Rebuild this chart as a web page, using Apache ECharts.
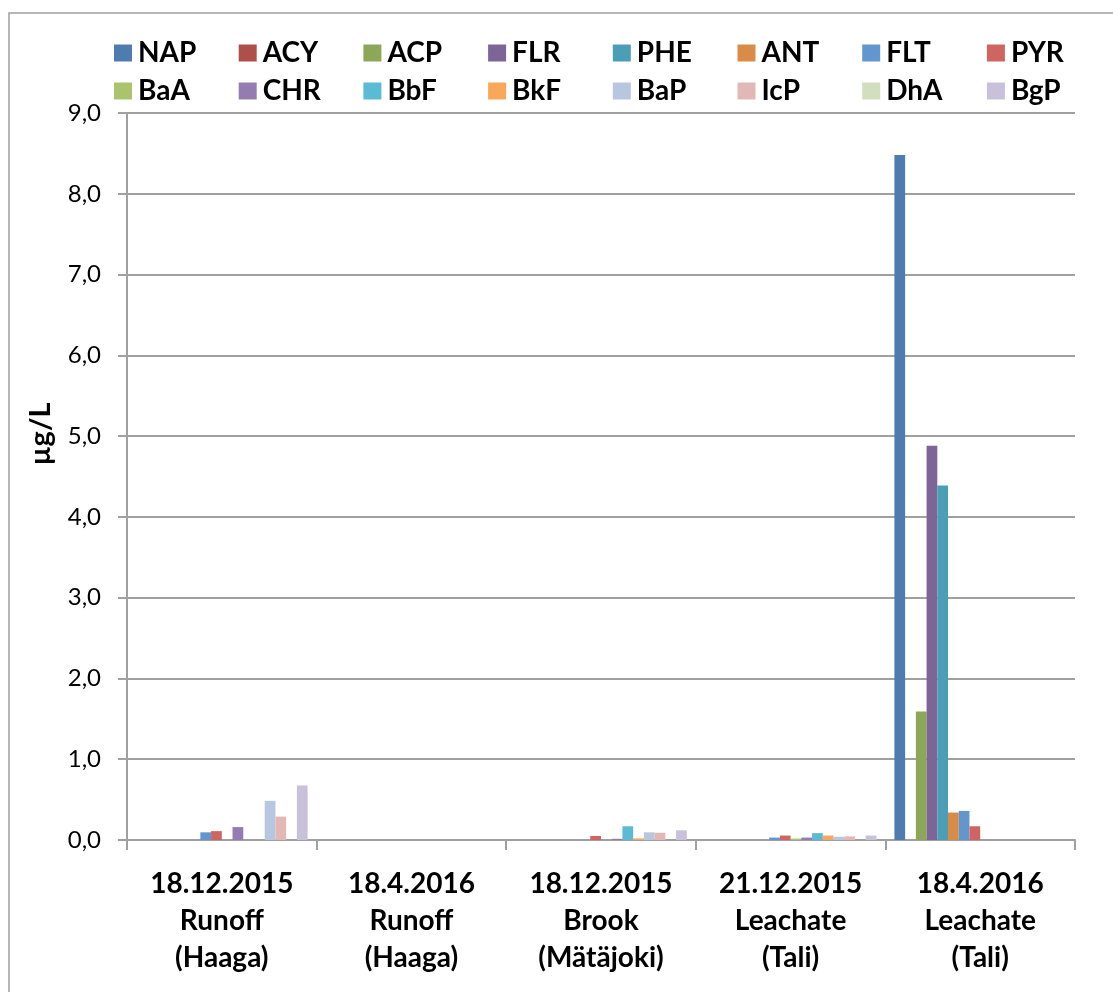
<!DOCTYPE html>
<html>
<head>
<meta charset="utf-8">
<script src="https://cdn.jsdelivr.net/npm/echarts@6/dist/echarts.min.js"></script>
<style>
html,body{margin:0;padding:0;background:#fff;}
#chart{width:1113px;height:992px;}
</style>
</head>
<body>
<div id="chart"></div>
<script>
const categories = ['18.12.2015\nRunoff\n(Haaga)', '18.4.2016\nRunoff\n(Haaga)', '18.12.2015\nBrook\n(Mätäjoki)', '21.12.2015\nLeachate\n(Tali)', '18.4.2016\nLeachate\n(Tali)'];
const seriesNames = ['NAP','ACY','ACP','FLR','PHE','ANT','FLT','PYR','BaA','CHR','BbF','BkF','BaP','IcP','DhA','BgP'];
const NAP = [0, 0, 0, 0, 8.48];
const ACY = [0, 0, 0, 0, 0];
const ACP = [0, 0, 0, 0, 1.59];
const FLR = [0, 0, 0, 0, 4.88];
const PHE = [0, 0, 0, 0, 4.39];
const ANT = [0, 0, 0, 0, 0.34];
const FLT = [0.095, 0, 0, 0.03, 0.36];
const PYR = [0.11, 0, 0.05, 0.055, 0.17];
const BaA = [0, 0, 0, 0.017, 0];
const CHR = [0.16, 0, 0.015, 0.03, 0];
const BbF = [0, 0, 0.17, 0.085, 0];
const BkF = [0, 0, 0.02, 0.055, 0];
const BaP = [0.485, 0, 0.095, 0.04, 0];
const IcP = [0.29, 0, 0.09, 0.045, 0];
const DhA = [0, 0, 0, 0, 0];
const BgP = [0.675, 0, 0.12, 0.055, 0];
const yTicks = [0,1,2,3,4,5,6,7,8,9];

const seriesData = [NAP, ACY, ACP, FLR, PHE, ANT, FLT, PYR, BaA, CHR, BbF, BkF, BaP, IcP, DhA, BgP];
const colors = ['#4F7CAF','#AE4F4A','#8DA758','#7D6597','#4A9FB6','#D98C47','#6196CF','#CE6561','#A9C46C','#947CB2','#5BBAD4','#F9A75B','#B8C6E0','#E2B8B7','#D1DFBD','#C9C0D9'];

const FONT = 'Lato';
const chart = echarts.init(document.getElementById('chart'), null, {renderer: 'canvas'});

function legendRow(names, top) {
  return {
    data: names,
    left: 109,
    top: top,
    width: 1000,
    orient: 'horizontal',
    itemWidth: 18,
    itemHeight: 17,
    itemGap: 21.7,
    icon: 'rect',
    selectedMode: false,
    textStyle: {fontFamily: FONT, fontWeight: 'bold', fontSize: 28, color: '#000', width: 79, lineHeight: 28, padding: [0,0,0,1]}
  };
}

const option = {
  backgroundColor: '#fff',
  color: colors,
  animation: false,
  legend: [legendRow(seriesNames.slice(0, 8), 34), legendRow(seriesNames.slice(8), 72)],
  grid: {left: 127, right: 38, top: 113, bottom: 152, containLabel: false},
  graphic: [
    {type: 'rect', shape: {x: 9, y: 13, width: 1200, height: 1200}, style: {fill: 'none', stroke: '#A0A0A0', lineWidth: 1.5}, silent: true},
    {type: 'text', x: 41, y: 434, rotation: Math.PI / 2, style: {text: 'µg/L', font: 'bold 29px Lato', fill: '#000', align: 'center', verticalAlign: 'middle'}}
  ],
  xAxis: {
    type: 'category',
    data: categories,
    axisLine: {show: true, lineStyle: {color: '#A0A0A0', width: 2}},
    axisTick: {show: true, length: 10, lineStyle: {color: '#A0A0A0', width: 2}},
    axisLabel: {fontFamily: FONT, fontWeight: 'bold', fontSize: 28, color: '#000', lineHeight: 37, margin: 25, interval: 0},
    splitLine: {show: false}
  },
  yAxis: {
    type: 'value',
    min: yTicks[0],
    max: yTicks[yTicks.length - 1],
    interval: 1,
    axisLine: {show: true, lineStyle: {color: '#A0A0A0', width: 2}},
    axisTick: {show: true, length: 9, lineStyle: {color: '#A0A0A0', width: 2}},
    axisLabel: {fontFamily: FONT, fontSize: 24, color: '#000', margin: 26, formatter: v => v.toFixed(1).replace('.', ',')},
    splitLine: {show: true, lineStyle: {color: '#A0A0A0', width: 2}}
  },
  series: seriesNames.map((n, i) => ({
    name: n,
    type: 'bar',
    data: seriesData[i],
    barGap: '0%',
    barCategoryGap: '9.5%',
    itemStyle: {color: colors[i]}
  }))
};
chart.setOption(option);
</script>
</body>
</html>
